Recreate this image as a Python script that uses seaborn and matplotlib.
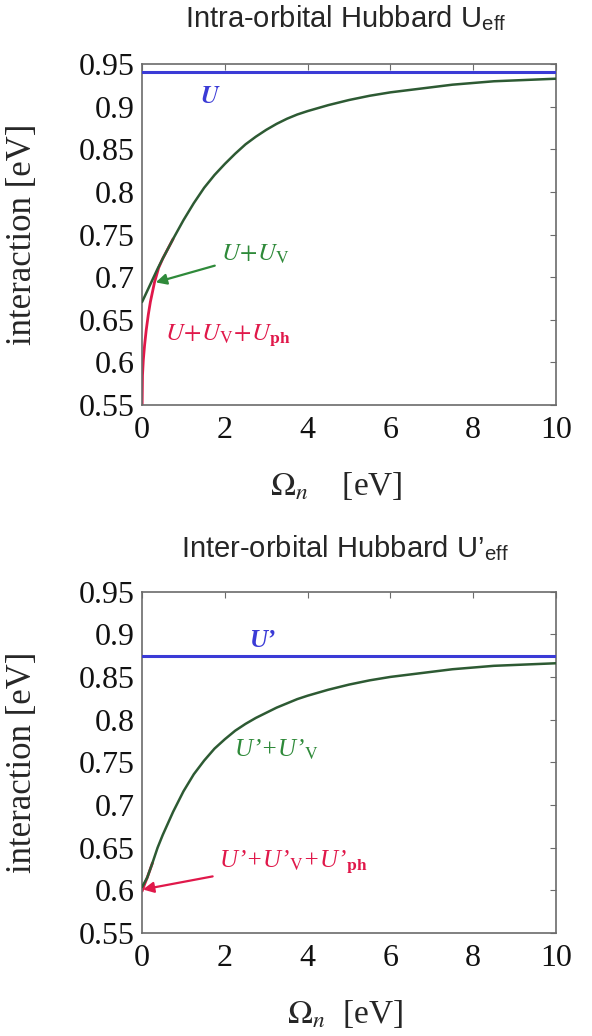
import numpy as np
import pandas as pd
import matplotlib
matplotlib.use("Agg")
import matplotlib.pyplot as plt
import seaborn as sns

# ---------------- data ----------------
omega = [0, 0.125, 0.25, 0.375, 0.5, 0.75, 1, 1.25, 1.5, 1.75, 2, 2.25, 2.5,
         2.75, 3, 3.25, 3.5, 3.75, 4, 4.5, 5, 5.5, 6, 6.5, 7, 7.5, 8, 8.5, 9,
         9.5, 10]

# top panel: intra-orbital
U_bare = 0.941
U_plus_Uv = [0.671, 0.684, 0.697, 0.710, 0.722, 0.745, 0.767, 0.787, 0.805,
             0.820, 0.833, 0.845, 0.856, 0.865, 0.873, 0.880, 0.886, 0.891,
             0.895, 0.902, 0.908, 0.913, 0.917, 0.920, 0.923, 0.926, 0.928,
             0.930, 0.931, 0.932, 0.933]
omega_ph = [0, 0.01, 0.03, 0.06, 0.1, 0.15, 0.2, 0.3, 0.4, 0.5, 0.75]
U_plus_Uv_Uph = [0.545, 0.585, 0.603, 0.620, 0.638, 0.656, 0.671, 0.694,
                 0.711, 0.722, 0.745]

# bottom panel: inter-orbital
Up_bare = 0.875
Up_plus_Upv = [0.604, 0.615, 0.632, 0.650, 0.665, 0.692, 0.716, 0.736, 0.752,
               0.766, 0.777, 0.787, 0.795, 0.802, 0.808, 0.814, 0.819, 0.824,
               0.828, 0.835, 0.841, 0.846, 0.850, 0.853, 0.856, 0.859, 0.861,
               0.863, 0.864, 0.865, 0.866]
omega_ph2 = [0, 0.06, 0.125, 0.25]
Up_plus_Upv_Upph = [0.599, 0.607, 0.615, 0.632]

xticks = [0, 2, 4, 6, 8, 10]
yticks = [0.55, 0.6, 0.65, 0.7, 0.75, 0.8, 0.85, 0.9, 0.95]
ytick_labels = ["0.55", "0.6", "0.65", "0.7", "0.75", "0.8", "0.85", "0.9", "0.95"]

# ---------------- style ----------------
sns.set_theme(style="white")
plt.rcParams["font.family"] = ["Liberation Serif", "DejaVu Serif"]
plt.rcParams["mathtext.fontset"] = "stix"

BLUE = "#3b3bd6"
GREEN = "#2f8a3a"
CURVE = "#2d5a33"
RED = "#e0184a"
FRAME = "#6b6b6b"
SANS = ["Liberation Sans", "DejaVu Sans"]

fig = plt.figure(figsize=(5.92, 10.36), dpi=100)
ax1 = fig.add_axes([0.240, 0.609, 0.699, 0.329])
ax2 = fig.add_axes([0.240, 0.0994, 0.699, 0.3296])


def style_axes(ax):
    ax.set_xlim(0, 10)
    ax.set_ylim(0.55, 0.95)
    ax.set_xticks(xticks)
    ax.set_xticklabels([str(t) for t in xticks])
    ax.set_yticks(yticks)
    ax.set_yticklabels(ytick_labels)
    ax.tick_params(direction="in", length=4, width=0.8, color=FRAME,
                   labelsize=23, top=True, right=True, pad=5,
                   labelcolor="#111111")
    ax.tick_params(axis="x", pad=8)
    for s in ax.spines.values():
        s.set_color(FRAME)
        s.set_linewidth(1.2)
    ax.set_ylabel("interaction [eV]", fontsize=25)
    ax.yaxis.set_label_coords(-0.25, 0.5)


# ---- top panel ----
df_top = pd.DataFrame({"omega": omega, "val": U_plus_Uv})
df_top_ph = pd.DataFrame({"omega": omega_ph, "val": U_plus_Uv_Uph})
ax1.axhline(U_bare, color=BLUE, lw=2.2, zorder=3)
sns.lineplot(data=df_top_ph, x="omega", y="val", ax=ax1, color=RED, lw=2.0,
             zorder=2)
sns.lineplot(data=df_top, x="omega", y="val", ax=ax1, color=CURVE, lw=1.8,
             zorder=3)
style_axes(ax1)
ax1.set_xlabel(r"$\Omega_n$    [eV]", fontsize=24)
ax1.xaxis.set_label_coords(0.469, -0.19)
fig.text(346 / 592, 1 - 18 / 1036, "Intra-orbital Hubbard U$_{\\mathregular{eff}}$",
         family=SANS, fontsize=21, ha="center", va="center")
ax1.text(1.64, 0.912, r"$\boldsymbol{U}$", color=BLUE, fontsize=18,
         ha="center", va="center")
ax1.annotate(r"$U\!+\!U_{\mathrm{V}}$", xy=(0.33, 0.694), xytext=(1.9, 0.727),
             color=GREEN, fontsize=18, ha="left", va="center",
             arrowprops=dict(arrowstyle="-|>", color=GREEN, lw=1.6,
                             mutation_scale=16, shrinkA=2, shrinkB=0))
ax1.text(0.55, 0.632, r"$U\!+\!U_{\mathrm{V}}\!+\!U_{\mathbf{ph}}$", color=RED,
         fontsize=18, ha="left", va="center")

# ---- bottom panel ----
df_bot = pd.DataFrame({"omega": omega, "val": Up_plus_Upv})
df_bot_ph = pd.DataFrame({"omega": omega_ph2, "val": Up_plus_Upv_Upph})
ax2.axhline(Up_bare, color=BLUE, lw=2.2, zorder=3)
sns.lineplot(data=df_bot_ph, x="omega", y="val", ax=ax2, color=RED, lw=2.0,
             zorder=2)
sns.lineplot(data=df_bot, x="omega", y="val", ax=ax2, color=CURVE, lw=1.8,
             zorder=3)
style_axes(ax2)
ax2.set_xlabel(r"$\Omega_n$  [eV]", fontsize=24)
ax2.xaxis.set_label_coords(0.49, -0.19)
fig.text(345 / 592, 1 - 548 / 1036, "Inter-orbital Hubbard U\u2019$_{\\mathregular{eff}}$",
         family=SANS, fontsize=21, ha="center", va="center")
ax2.text(2.93, 0.893, "U\u2019", color=BLUE, fontsize=18, style="italic",
         weight="bold", ha="center", va="center")
ax2.text(3.25, 0.764, "U\u2019+U\u2019$_{\\mathrm{V}}$", color=GREEN,
         fontsize=18, style="italic", ha="center", va="center")
ax2.annotate("U\u2019+U\u2019$_{\\mathrm{V}}$+U\u2019$_{\\mathbf{ph}}$",
             xy=(0.02, 0.601), xytext=(1.85, 0.634),
             color=RED, fontsize=18, style="italic", ha="left", va="center",
             arrowprops=dict(arrowstyle="-|>", color=RED, lw=1.6,
                             mutation_scale=16, shrinkA=2, shrinkB=0))

fig.savefig("out.png", dpi=100, facecolor="white")
